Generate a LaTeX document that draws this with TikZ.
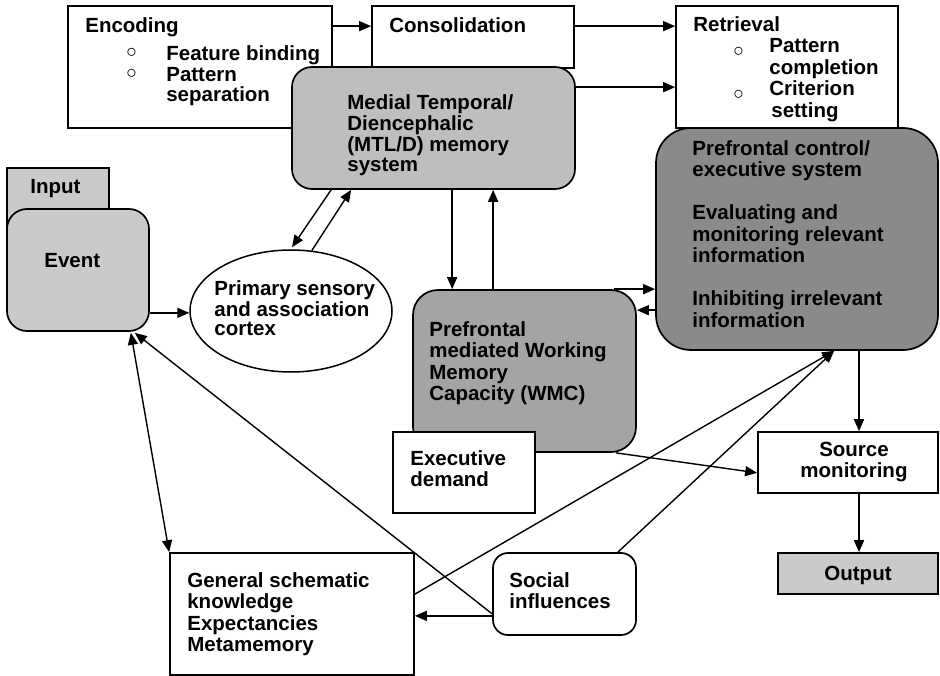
\documentclass[tikz,border=0pt]{standalone}
\usepackage{fontspec}
\setmainfont{Liberation Sans}
\usetikzlibrary{arrows.meta, calc, positioning, shapes.geometric}

\definecolor{lightbox}{HTML}{CACACA}
\definecolor{mtlfill}{HTML}{BEBEBE}
\definecolor{wmcfill}{HTML}{A4A4A4}
\definecolor{pfcfill}{HTML}{8A8A8A}

\newcommand{\encbul}{\raisebox{3pt}{$\circ$}}
\newcommand{\retbul}{\raisebox{-4pt}{$\circ$}}
% lines hanging from the first baseline
\newcommand{\toplines}[2][l]{\begin{tabular}[t]{@{}#1@{}}#2\end{tabular}}

\begin{document}
\begin{tikzpicture}[x=1pt, y=-1pt,
    box/.style={draw, line width=1.7pt, inner sep=0pt, fill=white},
    txt/.style={font=\fontsize{20.5}{21.5}\selectfont\bfseries, inner sep=0pt, anchor=base west},
    arr/.style={line width=1.6pt, -{Triangle[length=12pt, width=10pt]}},
    thin arr/.style={line width=1.4pt, -{Triangle[length=12pt, width=10pt]}}]
    \useasboundingbox (0,0) rectangle (940,676);

    % boxes
    \node[box, minimum width=264pt, minimum height=122pt] (enc) at (200,67) {};
    \node[box, minimum width=202pt, minimum height=62pt] (cons) at (473,37) {};
    \node[box, minimum width=222pt, minimum height=122pt] (ret) at (787,67) {};
    \node[box, fill=mtlfill, rounded corners=20pt, minimum width=283pt, minimum height=122pt] (mtl) at (433.5,128) {};
    \node[box, fill=lightbox, minimum width=102pt, minimum height=92pt] (input) at (58,214) {};
    \node[box, fill=lightbox, rounded corners=20pt, minimum width=142pt, minimum height=122pt] (event) at (78,270) {};
    \node[draw, ellipse, line width=1.5pt, fill=white, inner sep=0pt, minimum width=202pt, minimum height=122pt] (psc) at (291,311) {};
    \node[box, fill=wmcfill, rounded corners=25pt, minimum width=223pt, minimum height=162pt] (wmc) at (524.5,371) {};
    \node[box, fill=pfcfill, rounded corners=35pt, minimum width=282pt, minimum height=222pt] (pfc) at (797,239) {};
    \node[box, minimum width=142pt, minimum height=81pt] (exec) at (464,472.5) {};
    \node[box, minimum width=180pt, minimum height=61pt] (src) at (848,462.5) {};
    \node[box, fill=lightbox, minimum width=160pt, minimum height=41pt] (out) at (858,573.5) {};
    \node[box, minimum width=244pt, minimum height=122pt] (gsk) at (292,614) {};
    \node[box, rounded corners=15pt, minimum width=143pt, minimum height=82pt] (soc) at (564.5,594) {};

    % texts
    \node[txt] (enc-t) at ($(enc.north west)+(18,27)$) {\toplines{Encoding\\[6.5pt]
        \hspace*{41pt}\makebox[40pt][l]{\encbul}Feature binding\\
        \hspace*{41pt}\makebox[40pt][l]{\encbul}Pattern\\[-2pt]
        \hspace*{81pt}separation}};
    \node[txt] (cons-t) at ($(cons.north west)+(18,27)$) {Consolidation};
    \node[txt] (ret-t) at ($(ret.north west)+(18,26)$) {\toplines{Retrieval\\
        \hspace*{40pt}\makebox[36pt][l]{\retbul}Pattern\\
        \hspace*{76pt}completion\\
        \hspace*{40pt}\makebox[36pt][l]{\retbul}Criterion\\
        \hspace*{78pt}setting}};
    \node[txt, font=\fontsize{20.5}{20.3}\selectfont\bfseries] (mtl-t) at ($(mtl.north west)+(56,43)$)
        {\toplines{Medial Temporal/\\Diencephalic\\(MTL/D) memory\\system}};
    \node[txt] (input-t) at ($(input.north west)+(24,26)$) {Input};
    \node[txt] (event-t) at ($(event.north west)+(38,59)$) {Event};
    \node[txt, font=\fontsize{20.5}{19}\selectfont\bfseries] (psc-t) at ($(psc.west)+(25,-15)$)
        {\toplines{Primary sensory\\and association\\cortex}};
    \node[txt] (wmc-t) at ($(wmc.north west)+(17,47)$)
        {\toplines{Prefrontal\\mediated Working\\Memory\\Capacity (WMC)}};
    \node[txt] (pfc-t) at ($(pfc.north west)+(37,28)$)
        {\toplines{Prefrontal control/\\executive system\\[21.5pt]
         Evaluating and\\monitoring relevant\\information\\[21.5pt]
         Inhibiting irrelevant\\information}};
    \node[txt] (exec-t) at ($(exec.north west)+(18,34)$) {\toplines{Executive\\demand}};
    \node[txt, anchor=base] (src-t) at ($(src.north)+(6,25)$) {\toplines[c]{Source\\monitoring}};
    \node[txt, anchor=base] (out-t) at ($(out.north)+(0,28)$) {Output};
    \node[txt] (gsk-t) at ($(gsk.north west)+(18,35)$)
        {\toplines{General schematic\\knowledge\\Expectancies\\Metamemory}};
    \node[txt] (soc-t) at ($(soc.north west)+(17,35)$) {\toplines{Social\\influences}};

    % connectors
    \draw[arr] ($(enc.north east)+(0,21)$) coordinate (e1) -- (e1 -| cons.west);
    \draw[arr] ($(cons.north east)+(0,21)$) coordinate (c1) -- (c1 -| ret.west);
    \draw[arr] ($(mtl.north east)+(0,21)$) coordinate (m1) -- (m1 -| ret.west);
    \draw[thin arr] ($(mtl.south west)+(40,0)$) -- ($(psc.north)+(1,-2)$);
    \draw[thin arr] (psc.71) -- ($(mtl.south west)+(60,0)$);
    \draw[arr] ($(event.south east)+(0,-19)$) coordinate (v1) -- (v1 -| psc.west);
    \draw[arr] ($(mtl.south west)+(161,0)$) coordinate (m2) -- (m2 |- wmc.north);
    \draw[arr] ($(wmc.north west)+(81,0)$) coordinate (w1) -- (w1 |- mtl.south);
    \draw[arr] ($(wmc.north east)+(-23,0)$) coordinate (w2) -- (w2 -| pfc.west);
    \coordinate (w3) at ($(wmc.north east)+(0,21)$);
    \draw[arr] (w3 -| pfc.west) -- (w3);
    \coordinate (s1) at ($(src.north)+(11,0)$);
    \draw[arr] (s1 |- pfc.south) -- (s1);
    \draw[arr] (s1 |- src.south) -- (s1 |- out.north);
    \draw[thin arr] ($(wmc.south east)+(-21,0)$) -- ($(src.south west)+(0,-21)$);
    \draw[arr] ($(soc.south west)+(0,-20)$) coordinate (o1) -- (o1 -| gsk.east);
    \draw[thin arr] ($(soc.south west)+(0,-22)$) -- ($(event.south east)+(-15,1)$);
    \draw[thin arr, {Triangle[length=12pt, width=10pt]}-{Triangle[length=12pt, width=10pt]}]
        ($(event.south east)+(-19,1)$) -- (gsk.north west);
    \draw[thin arr] ($(gsk.north east)+(0,42)$) -- ($(pfc.south west)+(179,0)$);
    \draw[thin arr] ($(soc.north east)+(-19,0)$) -- ($(pfc.south west)+(179,0)$);
\end{tikzpicture}
\end{document}
